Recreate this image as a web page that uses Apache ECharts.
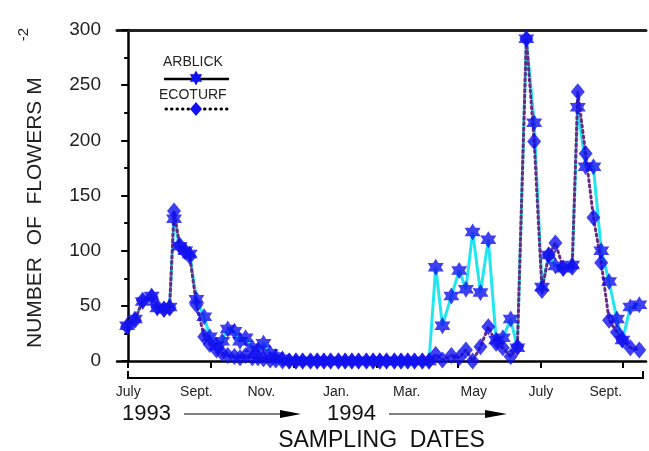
<!DOCTYPE html>
<html><head><meta charset="utf-8">
<script src="https://cdn.jsdelivr.net/npm/echarts@6/dist/echarts.min.js"></script>
<style>html,body{margin:0;padding:0;background:#fff}#c{width:649px;height:451px}</style>
</head><body><div id="c"></div>
<script>
// sampling dates: days since 1 July 1993
const sampleDays = [-1,6,13,21,26,32,37,41,46,51,55,61,68,73,79,84,89,95,100,105,111,116,121,127,132,138,
  144,150,156,163,169,175,181,188,194,200,206,213,219,225,231,238,244,250,256,263,269,
  275,281,289,296,302,308,315,322,329,335,342,348,356,363,370,376,382,389,397,402,409,416,423,430,437,442,449,457];
const arblick = [32,38,54,59,48,47,49,129,104,100,97,56,40,22,14,18,29,27,18,21,12,10,16,7,4,2,
  0,0,0,0,0,0,0,0,0,0,0,0,0,0,0,0,0,0,0,0,0,
  85,32,59,82,65,117,62,110,19,21,38,12,292,216,67,96,86,84,87,230,176,176,100,72,38,19,49,51];
const ecoturf = [31,37,55,58,49,47,48,136,105,99,95,51,22,15,10,7,5,4,3,5,3,3,2,1,1,0,
  0,0,0,0,0,0,0,0,0,0,0,0,0,0,0,0,0,0,0,0,0,
  6,1,5,3,10,0,13,31,16,12,4,13,292,199,64,96,107,84,85,244,188,130,89,37,26,19,12,10];
const monthLabels = ['July','Sept.','Nov.','Jan.','Mar.','May','July','Sept.'];
const monthLabelDays = [0,61,119,186,249,309,369,427];
const tickDays = [0,74,148,222,295,369,442];
const yearLabels = ['1993','1994'];
const seriesNames = ['ARBLICK','ECOTURF'];

const STAR = 'path://M100,0 L128.87,50 L186.6,50 L157.7,100 L186.6,150 L128.87,150 L100,200 L71.13,150 L13.4,150 L42.3,100 L13.4,50 L71.13,50 Z';
const BLUE = '#1010f0';
const FONT = 'Liberation Sans';

const pts = v => sampleDays.map((d, i) => [d, v[i]]);
const starPts = (cx, cy, r) => {
  const out = [];
  for (let k = 0; k < 12; k++) {
    const a = -Math.PI / 2 + k * Math.PI / 6;
    const rr = k % 2 === 0 ? r : r * 0.577;
    out.push([cx + rr * Math.cos(a) * 0.95, cy + rr * Math.sin(a)]);
  }
  return out;
};

const chart = echarts.init(document.getElementById('c'), null, {renderer: 'canvas'});
const option = {
  animation: false,
  backgroundColor: '#fff',
  grid: {left: 117, right: 3, top: 30, bottom: 90, outerBoundsMode: 'none', containLabel: false},
  xAxis: [
    {
      type: 'value', min: -10, max: 463, position: 'bottom',
      axisLine: {show: true, lineStyle: {color: '#000', width: 2.5}},
      axisTick: {show: true, inside: false, length: 7, lineStyle: {color: '#000', width: 2}, customValues: tickDays},
      axisLabel: {show: true, margin: 24, fontFamily: FONT, fontSize: 14, color: '#222',
        customValues: monthLabelDays,
        formatter: v => { const i = monthLabelDays.indexOf(v); return i >= 0 ? monthLabels[i] : ''; }},
      splitLine: {show: false},
      name: 'SAMPLING  DATES', nameLocation: 'middle', nameGap: 68,
      nameTextStyle: {fontFamily: FONT, fontSize: 23, color: '#111'}
    },
    {
      type: 'value', min: -10, max: 463, position: 'top',
      axisLine: {show: true, onZero: false, lineStyle: {color: '#222', width: 3}},
      axisTick: {show: false}, axisLabel: {show: false}, splitLine: {show: false}
    }
  ],
  yAxis: {
    type: 'value', min: 0, max: 300, interval: 50,
    axisLine: {show: true, lineStyle: {color: '#000', width: 2.5}},
    axisTick: {show: true, inside: false, length: 7, lineStyle: {color: '#000', width: 2}},
    minorTick: {show: true, splitNumber: 2, length: 4, lineStyle: {color: '#000', width: 2}},
    axisLabel: {margin: 16, fontFamily: FONT, fontSize: 19, color: '#222'},
    splitLine: {show: false},
    name: '{a|NUMBER  OF  FLOWERS M}{b|-2}', nameLocation: 'middle', nameGap: 62, nameRotate: 90,
    nameTextStyle: {
      padding: [0, 0, 0, 15],
      rich: {
        a: {fontFamily: FONT, fontSize: 21, color: '#222'},
        b: {fontFamily: FONT, fontSize: 15, color: '#222', padding: [0, 0, 24, 36]}
      }
    }
  },
  series: [
    {name: seriesNames[0], type: 'line', data: pts(arblick), showSymbol: false,
      lineStyle: {color: '#22e6ef', width: 3}, z: 2},
    {name: seriesNames[1], type: 'line', data: pts(ecoturf), showSymbol: false,
      lineStyle: {color: '#6a2a80', width: 3, type: [2, 3.5], cap: 'round'}, z: 3},
    {name: seriesNames[0], type: 'scatter', data: pts(arblick), symbol: STAR, symbolSize: [16, 17],
      itemStyle: {color: BLUE}, clip: false, z: 4},
    {name: seriesNames[1], type: 'scatter', data: pts(ecoturf), symbol: 'diamond', symbolSize: [14, 17],
      itemStyle: {color: BLUE}, clip: false, z: 5}
  ],
  graphic: [
    // bracket under the date axis
    {type: 'rect', z: 100, shape: {x: 127, y: 377, width: 517, height: 2}, style: {fill: '#000'}},
    {type: 'rect', z: 100, shape: {x: 127, y: 371, width: 2, height: 8}, style: {fill: '#000'}},
    {type: 'rect', z: 100, shape: {x: 642, y: 371, width: 2, height: 8}, style: {fill: '#000'}},
    // legend
    {type: 'text', x: 163, y: 55, style: {text: seriesNames[0], font: '14px "Liberation Sans"', fill: '#222'}},
    {type: 'line', shape: {x1: 164, y1: 79, x2: 229, y2: 79}, style: {stroke: '#000', lineWidth: 2.5}},
    {type: 'polygon', shape: {points: starPts(196, 78, 7.5)}, style: {fill: BLUE}},
    {type: 'text', x: 159, y: 88, style: {text: seriesNames[1], font: '14px "Liberation Sans"', fill: '#222'}},
    {type: 'line', shape: {x1: 166, y1: 109, x2: 229, y2: 109}, style: {stroke: '#000', lineWidth: 3, lineDash: [0.5, 5], lineCap: 'round'}},
    {type: 'polygon', shape: {points: [[196, 102], [202, 109], [196, 116], [190, 109]]}, style: {fill: BLUE}},
    // years with arrows
    {type: 'text', x: 122, y: 403, style: {text: yearLabels[0], font: '22px "Liberation Sans"', fill: '#111'}},
    {type: 'line', shape: {x1: 184, y1: 414, x2: 285, y2: 414}, style: {stroke: '#000', lineWidth: 1}},
    {type: 'polygon', shape: {points: [[280, 410], [301, 414], [280, 418]]}, style: {fill: '#000'}},
    {type: 'text', x: 327, y: 403, style: {text: yearLabels[1], font: '22px "Liberation Sans"', fill: '#111'}},
    {type: 'line', shape: {x1: 389, y1: 414, x2: 490, y2: 414}, style: {stroke: '#000', lineWidth: 1}},
    {type: 'polygon', shape: {points: [[485, 410], [507, 414], [485, 418]]}, style: {fill: '#000'}}
  ]
};
chart.setOption(option);
</script></body></html>
